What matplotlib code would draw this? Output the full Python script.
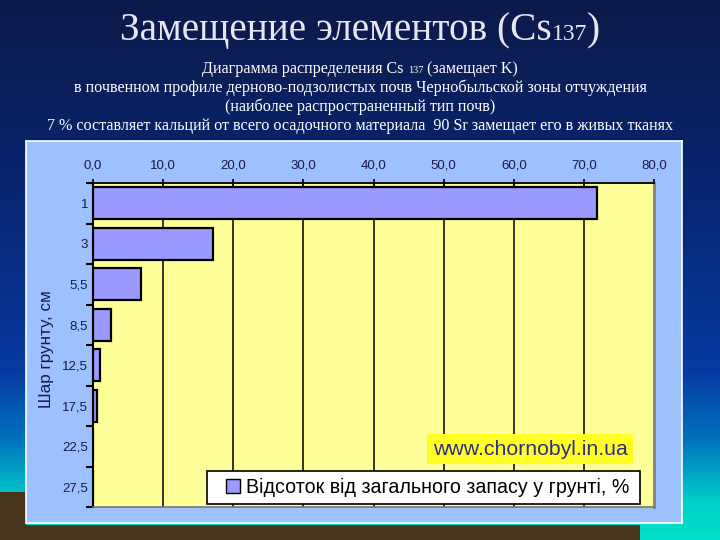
import numpy as np
import matplotlib
matplotlib.use("Agg")
import matplotlib.pyplot as plt
from matplotlib.lines import Line2D
from matplotlib.ticker import FixedLocator, FuncFormatter

# ---- data ----
depth_labels = ['1', '3', '5,5', '8,5', '12,5', '17,5', '22,5', '27,5']
share_pct = [71.9, 17.1, 6.8, 2.6, 1.0, 0.5, 0.0, 0.0]
x_ticks = [0, 10, 20, 30, 40, 50, 60, 70, 80]

title_main = "Замещение элементов (Cs"
title_sub = "137"
subtitle_1a = "Диаграмма распределения Cs "
subtitle_1b = "137"
subtitle_1c = " (замещает K)"
subtitle_2 = "в почвенном профиле дерново-подзолистых почв Чернобыльской зоны отчуждения"
subtitle_3 = "(наиболее распространенный тип почв)"
subtitle_4 = "7 % составляет кальций от всего осадочного материала  90 Sr замещает его в живых тканях"
y_label = "Шар грунту, см"
legend_label = "Відсоток від загального запасу у грунті, %"
watermark = "www.chornobyl.in.ua"

W, H = 720, 540
fig = plt.figure(figsize=(7.2, 5.4), dpi=100)

# ---- slide background ----
bg = fig.add_axes([0, 0, 1, 1])
bg.set_axis_off()
bg.set_zorder(-5)
rows = np.arange(H)
stops_y = [0, 200, 370, 440, 500, 540]
stops_c = np.array([[12, 26, 74], [8, 38, 115], [5, 58, 160],
                    [0, 115, 190], [0, 205, 200], [0, 225, 200]], float)
col = np.stack([np.interp(rows, stops_y, stops_c[:, k]) for k in range(3)], axis=1)
img = np.repeat(col[:, None, :], W, axis=1)
brown = np.array([72, 52, 28], float)
img[525:, :640] = brown
img[492:, :26] = brown
bg.imshow(img.astype(np.uint8), extent=[0, 1, 0, 1], aspect='auto', zorder=0)
bg.set_xlim(0, 1); bg.set_ylim(0, 1)

# ---- chart panel ----
panel = fig.add_axes([26 / W, 1 - 523 / H, 656 / W, 382 / H])
panel.set_zorder(-1)
panel.set_facecolor('#9DC0FF')
panel.set_xticks([]); panel.set_yticks([])
for s in panel.spines.values():
    s.set_color('white'); s.set_linewidth(1.2)

# ---- plot ----
ax = fig.add_axes([93 / W, 1 - 507 / H, 561 / W, 324 / H])
ax.set_zorder(2)
ax.set_facecolor('#FFFF99')
pos = np.arange(len(depth_labels))
bar_color = '#9999FF'
ax.barh(pos, share_pct, height=0.8, color=bar_color, edgecolor='black', lw=1.6, zorder=3)
ax.set_xlim(0, 80)
ax.set_ylim(len(depth_labels) - 0.5, -0.5)

ax.xaxis.set_ticks_position('top')
ax.xaxis.set_label_position('top')
ax.set_xticks(x_ticks)
ax.xaxis.set_major_formatter(FuncFormatter(lambda v, p: f"{v:.1f}".replace('.', ',')))
ax.tick_params(axis='x', which='major', direction='inout', length=6, width=1.2,
               colors='black', labelcolor='#1a1a4a', labelsize=9.5, pad=5)
for lab in ax.get_xticklabels():
    lab.set_fontfamily('Liberation Sans')

ax.set_yticks(pos)
ax.set_yticklabels(depth_labels, fontfamily='Liberation Sans')
ax.yaxis.set_minor_locator(FixedLocator(np.arange(-0.5, len(depth_labels), 1.0)))
ax.tick_params(axis='y', which='major', length=0, labelcolor='#1a1a4a', labelsize=9.5, pad=3.5)
ax.tick_params(axis='y', which='minor', direction='out', length=5, width=1.5, colors='black')

for v in x_ticks[1:-1]:
    ax.axvline(v, color='black', lw=1.1, zorder=1)

ax.spines['top'].set_color('black'); ax.spines['top'].set_linewidth(1.3)
ax.spines['left'].set_color('black'); ax.spines['left'].set_linewidth(1.5)
ax.spines['right'].set_color('#888888'); ax.spines['right'].set_linewidth(2.2)
ax.spines['bottom'].set_color('#777777'); ax.spines['bottom'].set_linewidth(1.2)

fig.text(46 / W, 1 - 349 / H, y_label, rotation=90, ha='center', va='center',
         fontsize=12.3, color='#1a1a4a', family='Liberation Sans', zorder=4)

proxy = Line2D([], [], ls='none', marker='s', markersize=9.5, markerfacecolor=bar_color,
               markeredgecolor='black', markeredgewidth=1.0)
leg = ax.legend(handles=[proxy], labels=[legend_label], loc='lower left',
                bbox_to_anchor=(0.203, 0.009, 0.772, 0.1), mode='expand', frameon=True,
                fancybox=False, edgecolor='black', framealpha=1, borderpad=0.35,
                borderaxespad=0, handlelength=2.0, handletextpad=-0.35,
                prop={'family': 'Liberation Sans', 'size': 14.1})
leg.get_frame().set_linewidth(1.2)
leg.set_zorder(5)

ax.text(0.779, 0.179, watermark, transform=ax.transAxes, ha='center', va='center',
        fontsize=15.3, color='#2e2e8e', family='Liberation Sans', zorder=6,
        bbox=dict(boxstyle='square,pad=0.27', facecolor='#FFFF22', edgecolor='none'))

# ---- title and subtitles (serif) ----
fig.canvas.draw()
rend = fig.canvas.get_renderer()


def place_parts(parts, y_px, center_px=360):
    # parts: list of (text, size, color); draws consecutively, centered
    widths = []
    for t, s, c in parts:
        tt = fig.text(0, 0, t, fontsize=s, family='Liberation Serif', color=c)
        widths.append(tt.get_window_extent(rend).width)
        tt.remove()
    total = sum(widths)
    x = center_px - total / 2
    for (t, s, c), w in zip(parts, widths):
        fig.text(x / W, 1 - y_px / H, t, fontsize=s, family='Liberation Serif',
                 color=c, ha='left', va='baseline')
        x += w


place_parts([(title_main, 28.3, '#e6e6ee'), (title_sub, 17, '#e6e6ee'), (")", 28.3, '#e6e6ee')], 40)
place_parts([(subtitle_1a, 11.6, 'white'), (subtitle_1b, 7.5, 'white'), (subtitle_1c, 11.6, 'white')], 73)
place_parts([(subtitle_2, 11.6, 'white')], 92)
place_parts([(subtitle_3, 11.6, 'white')], 111)
place_parts([(subtitle_4, 11.6, 'white')], 130)

fig.savefig('out.png', dpi=100)
